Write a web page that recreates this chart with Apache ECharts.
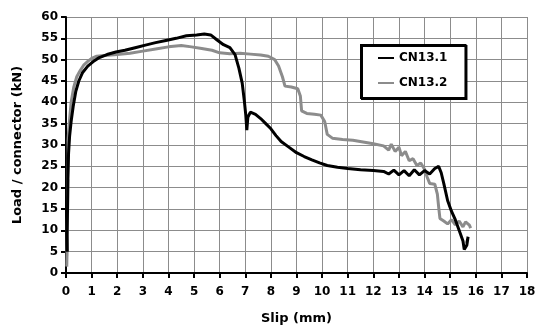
<!DOCTYPE html>
<html lang="en">

<head>
  <meta charset="UTF-8">
  <title>Load-slip CN13</title>
  <script src="https://cdn.jsdelivr.net/npm/echarts@6/dist/echarts.min.js"></script>
  <style>
    html, body { margin: 0; padding: 0; background: #fff; }
  </style>
</head>

<body>
  <div id="chart" style="width: 535px;height: 329px;"></div>
  <script>
    const myEcharts = echarts.init(document.getElementById('chart'))

    const seriesNames = ['CN13.1', 'CN13.2']

    // [slip (mm), load (kN)]
    const cn131 = [
      [0.05, 5], [0.04, 9], [0.06, 15], [0.07, 22], [0.1, 28], [0.14, 32], [0.2, 35.5],
      [0.28, 39], [0.38, 42.5], [0.5, 45], [0.65, 47], [0.85, 48.5], [1.05, 49.5],
      [1.3, 50.5], [1.6, 51.2], [1.95, 51.8], [2.3, 52.2], [2.7, 52.8], [3.1, 53.4],
      [3.5, 54], [3.9, 54.5], [4.3, 55], [4.7, 55.6], [5.1, 55.8], [5.4, 56], [5.65, 55.8],
      [5.9, 54.6], [6.15, 53.5], [6.4, 52.8], [6.6, 51.2], [6.75, 48], [6.88, 44.5],
      [6.96, 40.5], [7.02, 37], [7.06, 33.5], [7.1, 36.5], [7.2, 37.7], [7.4, 37.2],
      [7.6, 36.2], [7.8, 35], [8.0, 33.8], [8.2, 32.2], [8.4, 30.8], [8.7, 29.5],
      [9.0, 28.2], [9.3, 27.3], [9.6, 26.5], [9.9, 25.8], [10.2, 25.2], [10.6, 24.8],
      [11.0, 24.5], [11.5, 24.2], [12.0, 24], [12.4, 23.8], [12.6, 23.2], [12.8, 24.1],
      [13.0, 23.0], [13.2, 24.0], [13.4, 22.8], [13.6, 24.2], [13.8, 23.0], [14.0, 24.0],
      [14.2, 23.2], [14.4, 24.5], [14.55, 25], [14.65, 23.5], [14.75, 21], [14.9, 17],
      [15.05, 14.5], [15.2, 12.5], [15.35, 10], [15.5, 7.5], [15.55, 5.5], [15.65, 6.5],
      [15.7, 8.5], [15.65, 7]
    ]

    const cn132 = [
      [0.03, 1.5], [0.05, 8], [0.04, 4], [0.06, 14], [0.05, 10], [0.08, 22], [0.06, 18],
      [0.09, 27], [0.08, 31], [0.1, 33], [0.14, 36], [0.2, 40], [0.3, 43.5], [0.42, 46],
      [0.56, 47.5], [0.7, 48.8], [0.85, 49.6], [1.0, 50.3], [1.2, 50.8], [1.5, 51],
      [2.0, 51.2], [2.5, 51.5], [3.0, 52], [3.5, 52.5], [4.0, 53], [4.5, 53.3], [4.9, 53],
      [5.3, 52.6], [5.7, 52.2], [6.0, 51.6], [6.4, 51.4], [6.8, 51.5], [7.2, 51.3],
      [7.6, 51.1], [7.9, 50.8], [8.15, 50], [8.3, 48.5], [8.45, 46], [8.55, 43.8],
      [8.8, 43.6], [9.05, 43.2], [9.15, 41.5], [9.2, 38], [9.4, 37.4], [9.7, 37.2],
      [9.95, 37], [10.1, 35.5], [10.2, 32.5], [10.4, 31.6], [10.8, 31.3], [11.2, 31.1],
      [11.6, 30.7], [12.0, 30.3], [12.4, 29.8], [12.6, 28.8], [12.7, 30.2], [12.85, 28.5],
      [13.0, 29.5], [13.1, 27.5], [13.25, 28.5], [13.4, 26.3], [13.55, 26.8], [13.7, 25.2],
      [13.85, 25.8], [14.0, 24.3], [14.1, 22.5], [14.2, 21], [14.4, 20.8], [14.5, 18.5],
      [14.55, 15.5], [14.6, 12.8], [14.75, 12.2], [14.9, 11.5], [15.05, 12.5], [15.2, 11.3],
      [15.35, 12.2], [15.5, 10.8], [15.6, 12], [15.75, 11.2], [15.8, 10.5]
    ]

    const font = 'DejaVu Sans'

    const option = {
      animation: false,
      backgroundColor: '#fff',
      grid: {
        left: 66,
        right: 8,
        top: 17,
        bottom: 56,
        outerBoundsMode: 'none'
      },
      legend: {
        data: seriesNames,
        orient: 'vertical',
        left: 361,
        top: 45,
        padding: [7, 18, 9, 17],
        itemGap: 13,
        itemWidth: 16,
        itemHeight: 2,
        icon: 'rect',
        backgroundColor: '#fff',
        borderColor: '#000',
        borderWidth: 2,
        shadowColor: '#000',
        shadowBlur: 0,
        shadowOffsetX: 1,
        shadowOffsetY: 1,
        textStyle: { fontFamily: font, fontWeight: 'bold', fontSize: 12, color: '#000' }
      },
      xAxis: {
        type: 'value',
        min: 0,
        max: 18,
        interval: 1,
        name: 'Slip (mm)',
        nameLocation: 'middle',
        nameGap: 39,
        nameTextStyle: { fontFamily: font, fontWeight: 'bold', fontSize: 13, color: '#000' },
        axisLine: { lineStyle: { color: '#000', width: 2 } },
        axisTick: { show: true, length: 5, lineStyle: { color: '#000', width: 2 } },
        axisLabel: { margin: 13, fontFamily: font, fontWeight: 'bold', fontSize: 12, color: '#000' },
        splitLine: { show: true, lineStyle: { color: '#8c8c8c', width: 1 } }
      },
      yAxis: {
        type: 'value',
        min: 0,
        max: 60,
        interval: 5,
        name: 'Load / connector (kN)',
        nameLocation: 'middle',
        nameGap: 42,
        nameTextStyle: { fontFamily: font, fontWeight: 'bold', fontSize: 13, color: '#000' },
        axisLine: { lineStyle: { color: '#000', width: 2 } },
        axisTick: { show: true, length: 5, lineStyle: { color: '#000', width: 2 } },
        axisLabel: { margin: 8, fontFamily: font, fontWeight: 'bold', fontSize: 12, color: '#000' },
        splitLine: { show: true, lineStyle: { color: '#8c8c8c', width: 1 } }
      },
      series: [
        {
          name: seriesNames[0],
          type: 'line',
          data: cn131,
          showSymbol: false,
          z: 3,
          color: '#000',
          lineStyle: { color: '#000', width: 3 }
        },
        {
          name: seriesNames[1],
          type: 'line',
          data: cn132,
          showSymbol: false,
          z: 2,
          color: '#8c8c8c',
          lineStyle: { color: '#8c8c8c', width: 3 }
        }
      ]
    }

    myEcharts.setOption(option)
  </script>
</body>

</html>
